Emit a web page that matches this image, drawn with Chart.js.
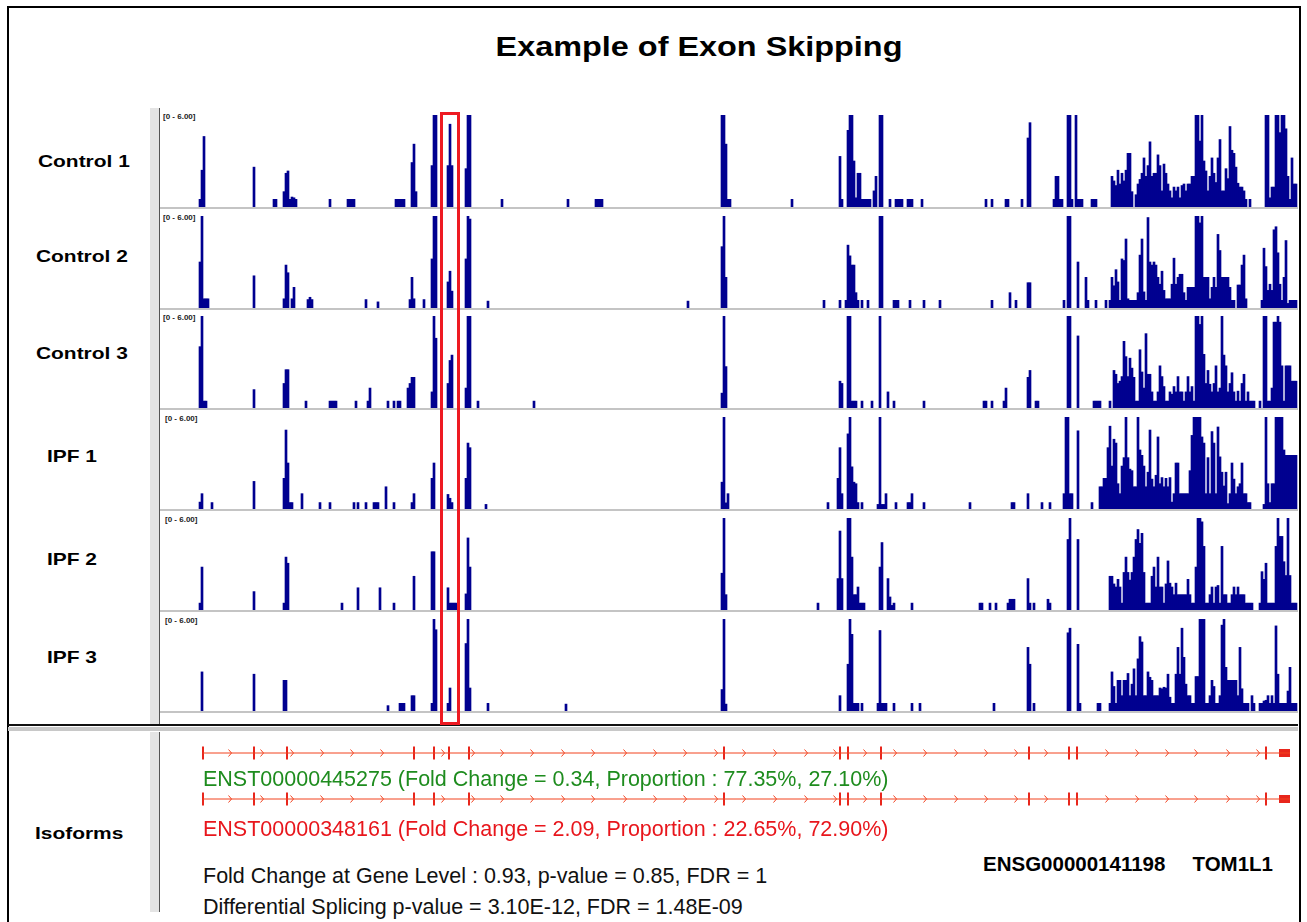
<!DOCTYPE html>
<html>
<head>
<meta charset="utf-8">
<script src="https://cdn.jsdelivr.net/npm/chart.js@4.4.1/dist/chart.umd.min.js"></script>
<style>
  html, body { margin: 0; padding: 0; background: #fff; }
  body { font-family: "Liberation Sans", Arial, sans-serif; }
  #page { position: relative; width: 1307px; height: 922px; overflow: hidden; background: #fff; }
  .abs { position: absolute; }
  .txt { position: absolute; white-space: nowrap; line-height: 1; }
  canvas { position: absolute; display: block; }
</style>
</head>
<body>
<div id="page"></div>
<script>
// ---------------- DATA ----------------
const chartTitle = 'Example of Exon Skipping';
const trackNames = ['Control 1', 'Control 2', 'Control 3', 'IPF 1', 'IPF 2', 'IPF 3'];
const yMax = 6;
const xMax = 1138;          // relative genomic position units across the locus
const binStep = 2;          // width of one coverage bin (position units)

// coverage runs: [start position, height of bin 1, height of bin 2, ...]
const control1Runs = [
  [40, 0.5, 2.4, 4.6], [94, 2.6], [114, 0.5, 0.5], [124, 1.0, 2.2, 2.35, 0.5, 0.65, 0.6, 0.5],
  [170, 0.5], [188, 0.5, 0.5, 0.5, 0.5], [236, 0.5, 0.5, 0.5, 0.5, 0.5], [252, 2.9, 4.1, 1.0],
  [272, 2.7, 6, 6], [288, 2.7, 5.4, 2.7], [306, 2.5, 6, 6], [342, 0.5], [408, 0.5],
  [436, 0.5, 0.5, 0.5, 0.5], [562, 6, 6, 4.1, 0.5, 0.5], [632, 0.5], [680, 3.3, 0.5],
  [688, 5.0, 6, 6, 3.0, 0.6, 2.2, 2.2], [702, 0.5, 0.5, 0.5, 0.5, 0.5], [714, 1.05, 2.0], [720, 6, 6],
  [730, 0.5], [736, 0.5, 0.5, 0.5, 0.5], [748, 0.5, 0.5, 0.5], [762, 0.5], [826, 0.5], [832, 0.5],
  [846, 0.5, 0.5], [862, 0.5], [868, 4.5, 5.5], [894, 0.5, 2.0, 2.0, 0.5, 0.5], [908, 6, 6, 0.5],
  [916, 6, 0.5, 0.5, 0.5], [932, 0.5, 0.5, 0.5],
  [952, 2.0, 1.7, 1.4, 2.4, 1.5, 2.2, 1.7, 2.4, 3.5, 3.5, 1.0],
  [976, 0.8, 1.5, 1.8, 2.2, 3.2, 2.0, 2.7, 4.25, 2.0, 2.2, 2.2, 3.4, 2.7, 1.05, 2.8, 2.2, 1.5, 1.05, 0.6, 1.3, 1.05, 1.3, 0.6, 1.4, 1.5, 1.05, 1.5, 1.5, 2.0, 2.0],
  [1036, 6, 6, 4.3, 6, 3.0, 2.35, 1.05, 2.0, 3.2, 2.2, 1.6, 3.2, 4.4, 1.05, 1.05, 2.5, 1.85, 5.25, 3.7, 3.5, 2.6, 1.55, 1.3, 1.3, 1.05, 0.5, 0, 0.5],
  [1106, 6, 6, 0.6, 1.3, 1.3, 6, 6, 4.85, 6, 6, 5.1, 2.0, 0.5, 3.2, 1.5, 1.5]
];
const control2Runs = [
  [40, 3.0, 6, 0.6, 0.6, 0.6], [94, 2.1], [124, 0.6, 2.8, 2.3], [132, 0.6, 1.35], [148, 0.55, 0.7, 0.55],
  [206, 0.55], [218, 0.4], [250, 0.55, 2.0, 0.6], [264, 0.55], [272, 3.2, 6, 6], [288, 1.7, 2.4, 1.1],
  [306, 3.2, 6, 5.8], [328, 0.45], [528, 0.45], [562, 4.0, 6, 2.0], [664, 0.5], [680, 0.5],
  [686, 0.5, 4.1, 3.4, 2.8, 2.8, 1.0, 0.5], [702, 0.5], [708, 0.5], [720, 6, 6], [734, 0.5, 0.5, 0.5],
  [750, 0.5], [764, 0.5], [780, 0.5], [832, 0.5], [850, 1.0], [856, 0.5], [868, 1.65, 1.65], [904, 0.5],
  [908, 6, 6], [918, 3.0], [926, 2.0, 0.5], [936, 0.5], [946, 0.5],
  [950, 0.5, 2.0, 1.45, 2.5, 1.7, 0.5, 3.2, 3.1, 4.5, 0.6, 0.5, 0.5],
  [974, 0.5, 0.5, 1.0, 3.45, 4.5, 1.05, 0.5, 5.9, 3.0, 2.8, 3.0, 2.8, 2.0, 1.55, 2.4, 1.15, 0.6, 0.6, 0.6, 1.55, 3.25, 1.55, 2.0, 2.2, 2.2, 1.0, 0.5, 1.35, 1.35, 1.35, 1.35],
  [1036, 6, 6, 5.55, 6, 2.0, 2.0, 2.0, 0.6, 1.35, 2.0, 1.35, 4.8, 3.75, 2.0, 2.0, 2.0, 2.0, 1.35, 0.5, 0.5, 0, 1.5, 1.5, 2.8, 3.45, 0.6],
  [1102, 0.5, 3.9, 2.7, 1.15, 1.55, 1.15, 5.1, 5.3, 3.6, 1.55, 0.5, 2.0, 4.4, 0.3, 0.5, 0.5, 0.5, 0.5]
];
const control3Runs = [
  [40, 4.0, 6, 0.45, 0.45], [94, 1.2], [124, 1.6, 2.5, 2.5], [146, 0.45], [170, 0.45, 0.45, 0.45, 0.45],
  [196, 0.45], [208, 0.45, 1.3], [228, 0.45], [234, 0.45], [238, 0.45, 0.45], [248, 1.3, 1.6, 2.0, 2.0],
  [272, 1.05, 6, 4.55], [288, 1.6, 3.1, 3.45], [306, 1.3, 6, 6], [318, 0.45], [374, 0.45],
  [562, 0.97, 6, 2.7], [680, 1.75, 1.6], [688, 6, 6, 0.45, 0.45, 0.45], [702, 0.45], [712, 0.45],
  [720, 6], [728, 1.05], [734, 0.45], [764, 0.45], [824, 0.45, 0.45], [832, 0.45], [844, 0.45, 1.3],
  [868, 2.0, 2.45], [876, 0.45, 0.45], [908, 6, 6], [918, 4.7], [934, 0.45, 0.45, 0.45, 0.45], [950, 0.45],
  [954, 2.45, 2.2, 1.6, 1.75, 2.05, 4.35, 3.35, 2.05, 3.25, 2.6, 2.0, 0.45, 0.45, 3.8, 2.35, 1.3, 4.85, 2.2, 2.2, 1.05, 0.45, 0.45, 1.05, 2.75, 2.05, 1.4, 0.45, 0.45, 1.05, 0.9, 1.4, 1.05, 2.05, 1.05, 1.05, 0.45, 1.05, 2.05, 1.05, 1.4, 0.45],
  [1036, 6, 6, 5.45, 6, 3.5, 1.6, 2.45, 1.55, 1.05, 1.6, 2.75, 1.05, 1.3, 6, 3.45, 2.75, 1.05, 1.6, 2.3, 1.05, 0.45, 1.1, 0.45, 1.6, 2.2, 0.45, 1.05, 0.45, 0.45, 0.45],
  [1100, 0.45, 0, 6, 6, 0.45, 0.45, 1.3, 5.6, 5.6, 6, 5.6, 2.75, 0.45, 2.75, 2.75, 2.75, 1.75, 1.75, 1.75]
];
const ipf1Runs = [
  [40, 0.45, 1.0], [52, 0.42], [94, 1.8], [124, 2.0, 5.15, 3.0, 0.42, 0.42], [142, 1.0], [160, 0.42],
  [170, 0.42], [194, 0.42], [198, 0.42], [206, 0.42], [214, 0.42, 0.42, 0.42], [226, 1.45], [234, 0.42],
  [252, 0.42, 1.0], [272, 2.0, 3.0], [288, 0.95, 0.7, 0.42], [306, 2.0, 4.3, 4.0], [326, 0.3],
  [562, 1.75, 6, 0.4, 1.0], [668, 0.42], [678, 2.0, 4.0, 1.0], [688, 4.9, 6, 2.75, 1.75, 1.65, 0.42],
  [702, 0.42], [718, 0.3, 6, 0.3, 0.3, 1.0], [736, 0.42], [748, 0.42, 0.42, 1.0], [764, 0.42], [810, 0.42],
  [852, 0.42, 0.42], [868, 1.0], [882, 0.42], [890, 0.42], [904, 1.0, 6, 6, 1.0, 1.0], [918, 5.1], [932, 0.42],
  [940, 1.45, 1.45, 2.0, 2.0, 4.0, 5.4, 2.8, 4.55, 4.3, 1.65, 1.0, 2.8, 3.35, 6, 3.35, 2.6, 2.5, 1.45, 1.45, 6,
        3.85, 3.5, 2.8, 1.45, 2.4, 5.15, 1.95, 1.45, 2.2, 4.7, 1.65, 2.05, 1.45, 2.0, 1.45, 2.05, 0.45, 1.0, 3.0, 3.0,
        1.0, 1.0, 1.0, 1.0, 1.0, 2.5, 4.8, 6, 6, 6, 6, 4.7, 4.3, 1.0, 3.35, 1.0, 5.05, 4.3, 1.0, 5.35,
        3.4, 2.4, 1.5, 2.4, 0.35, 1.0, 3.0, 1.95, 1.0, 1.45, 1.65, 3.0, 1.0, 1.0, 0.42, 0.42],
  [1104, 0.3, 6, 1.65, 0.42, 1.65, 1.65, 6, 6, 6, 6, 3.85, 3.5, 3.5, 3.5, 3.5, 3.5, 3.5]
];
const ipf2Runs = [
  [40, 0.45, 2.8], [94, 1.2], [124, 0.45, 3.45, 3.05], [182, 0.45], [198, 1.45], [220, 1.45], [234, 0.45],
  [254, 2.2], [272, 3.8, 3.8], [288, 1.45, 0.45, 0.45, 0.45, 0.45], [306, 1.05, 4.7, 2.8],
  [562, 2.4, 6, 1.0], [658, 0.45], [678, 2.05, 5.15, 2.05], [688, 6, 6, 3.45, 1.0, 1.0, 1.5, 0.45, 0.45, 0.45],
  [720, 2.8, 4.4], [728, 2.05, 0.85, 0.3, 0.45], [752, 0.45], [820, 0.45, 0.45], [830, 0.45], [836, 0.45],
  [848, 0.45, 0.7, 0.7, 0.7], [868, 2.05, 0.45], [874, 0.45], [888, 0.7, 0.45], [908, 4.6, 6], [918, 4.6],
  [950, 2.2, 2.2, 1.7, 1.5, 2.0, 1.5, 0.45, 2.45, 3.45, 2.45, 1.95, 2.45, 3.45, 4.6, 5.25, 4.35, 5.0, 2.45, 0.45, 0.45,
        0.45, 2.2, 2.8, 1.5, 3.45, 1.5, 1.5, 0.45, 1.7, 3.2, 1.75, 1.5, 1.0, 1.75, 1.0, 1.0, 1.0, 1.0, 1.0, 2.0, 1.0, 0.45, 0.45],
  [1036, 2.8, 6, 6, 5.75, 4.15, 0.45, 0.45, 1.0, 1.5, 0.45, 1.5, 1.6, 0.45, 4.15, 1.0, 1.0, 0.45, 0.45, 1.0, 1.5, 1.0, 1.5, 1.0, 1.0, 1.0, 0.45, 0.45, 0.45, 0.45],
  [1100, 0.45, 2.5, 2.0, 3.05, 0.45, 0.45, 0.45, 0.45, 4.15, 6, 4.8, 4.8, 3.15, 2.25, 6, 2.25, 0.45, 0.45, 0.45]
];
const ipf3Runs = [
  [42, 2.55], [94, 2.4], [124, 2.0, 2.0], [228, 0.35], [240, 0.5, 0.5, 0.5], [252, 1.0, 1.0],
  [272, 0.5, 6, 5.3], [288, 0.5, 1.5], [306, 4.4, 6, 1.5], [328, 0.5], [406, 0.45], [562, 1.4, 6, 0.45],
  [680, 1.0], [688, 3.05, 6, 5.0, 0.5, 0.5, 0.5, 0, 0.5], [718, 0.5, 5.25, 0.5, 0.5, 0.5], [734, 0.5],
  [752, 0.5], [760, 0.5], [834, 0.5], [868, 4.15, 3.05, 0, 0.5], [908, 5.1, 5.4], [918, 4.35, 0.5], [938, 0.5, 0.5],
  [950, 0.5, 2.55, 1.6, 0.5, 2.0, 2.0, 1.0, 2.0, 2.0, 2.45, 1.0, 1.75, 2.75, 1.0, 3.4, 4.85, 4.5, 1.0, 1.0, 2.55,
        2.2, 2.0, 1.0, 1.0, 1.0, 1.5, 1.45, 1.55, 1.5, 2.4, 0.9, 0.5, 0.5, 2.4, 4.15, 2.4, 5.4, 3.5, 1.75, 1.0, 1.0, 0.5, 0.5],
  [1036, 2.25, 2.25, 6, 6, 6, 0.5, 0.5, 1.0, 2.0, 1.6, 0.5, 0.5, 1.0, 5.6, 6, 2.85, 2.0, 2.0, 2.0, 2.0, 2.0, 1.0, 4.15, 1.45, 0.5, 0.5, 0.5, 0, 1.0, 0.5],
  [1100, 0.5, 0.5, 0.65, 0.7, 1.0, 0.5, 1.0, 0.5, 5.55, 2.4, 0.5, 0.5, 0.5, 0.5, 1.3, 2.85, 0.5, 0.5, 0.5]
];
const trackRuns = [control1Runs, control2Runs, control3Runs, ipf1Runs, ipf2Runs, ipf3Runs];

// highlighted (skipped) exon window
const highlightStart = 281, highlightEnd = 299;

// isoform structures (positions on same axis)
const isoformIds = ['ENST00000445275', 'ENST00000348161'];
const isoformFoldChange = ['0.34', '2.09'];
const isoformProportion = [['77.35%', '27.10%'], ['22.65%', '72.90%']];
const isoformExons1 = [43, 94, 127, 254, 274, 289, 309, 564, 680, 688, 721, 869, 909, 917, 1106];
const isoformExons2 = [43, 94, 127, 254, 274, 309, 564, 680, 688, 721, 869, 909, 917, 1106];
const geneSpan = [43, 1130];
const lastExon = [1119, 1130];
const strandArrows = [70, 102, 132, 162, 192, 222, 283, 313, 342, 372, 403, 433, 465, 495, 525, 556, 584, 615,
                      646, 675, 705, 735, 765, 796, 826, 856, 886, 947, 977, 1007, 1036, 1068, 1098];
const geneFoldChange = '0.93', genePValue = '0.85', geneFDR = '1';
const splicingPValue = '3.10E-12', splicingFDR = '1.48E-09';
const geneId = 'ENSG00000141198', geneSymbol = 'TOM1L1';

// ---------------- STYLE / LAYOUT ----------------
const BAR = '#000090';
const ISO_LINE = '#f2421f';
const ISO_EXON = '#e8261c';
const GREEN = '#1e8c1e';
const RED = '#e8161c';
const plotLeft = 160, plotWidth = 1138, trackPx = 92;
const trackBase = [207, 308, 408, 509, 610, 711];
const labelCenter = [161, 256, 353, 456, 559, 657];
const labelLeft = [38, 36, 36, 47, 47, 47];
const rangeLeft = [163, 163, 163, 165, 165, 165];

const page = document.getElementById('page');
function box(l, t, w, h, bg) {
  const d = document.createElement('div');
  d.className = 'abs';
  Object.assign(d.style, { left: l + 'px', top: t + 'px', width: w + 'px', height: h + 'px', background: bg });
  page.appendChild(d); return d;
}
function text(str, opts) {
  const d = document.createElement('div');
  d.className = 'txt';
  d.textContent = str;
  Object.assign(d.style, opts);
  page.appendChild(d); return d;
}

// frame
const frame = box(7, 6, 1290, 940, 'transparent');
frame.style.border = '2px solid #000';

// title
text(chartTitle, { left: '0px', width: '1398px', textAlign: 'center', top: '34px', fontSize: '27px',
  fontWeight: 'bold', transform: 'scaleX(1.2)', transformOrigin: '699px 0' });

// left gray band + dark edges
box(150, 108, 9, 617, '#e4e4e4');
box(159, 108, 1, 617, '#555');
box(150, 732, 9, 180, '#e4e4e4');
box(159, 732, 1, 180, '#555');
// separator
box(8, 724, 1290, 2, '#111');
box(8, 727, 1290, 4, '#c8c8c8');

function expand(runs) {
  const pts = [];
  runs.forEach(r => {
    for (let i = 1; i < r.length; i++) {
      if (r[i] > 0) pts.push({ x: r[0] + binStep * (i - 1), y: r[i] });
    }
  });
  return pts;
}

trackNames.forEach((name, k) => {
  const base = trackBase[k];
  box(plotLeft, base, plotWidth, 2, '#c4c4c4');
  text(name, { left: labelLeft[k] + 'px', top: (labelCenter[k] - 8.3) + 'px', fontSize: '17px', fontWeight: 'bold',
    transform: 'scaleX(1.23)', transformOrigin: '0 0' });
  text('[0 - ' + yMax.toFixed(2) + ']', { left: rangeLeft[k] + 'px', top: (base - 94) + 'px', fontSize: '8px',
    fontWeight: 'bold', color: '#222' });
  const cv = document.createElement('canvas');
  cv.width = plotWidth; cv.height = trackPx;
  cv.style.left = plotLeft + 'px'; cv.style.top = (base - trackPx) + 'px';
  page.appendChild(cv);
  new Chart(cv, {
    type: 'bar',
    data: { datasets: [{ label: name, data: expand(trackRuns[k]), backgroundColor: BAR, borderWidth: 0,
      barThickness: binStep, grouped: false }] },
    options: {
      responsive: false, animation: false, events: [],
      layout: { padding: 0, autoPadding: false },
      plugins: { legend: { display: false }, tooltip: { enabled: false } },
      scales: {
        x: { type: 'linear', min: 0, max: xMax, offset: false, display: false },
        y: { type: 'linear', min: 0, max: yMax, display: false }
      }
    }
  });
});

// highlight box
const hb = box(plotLeft + highlightStart - 1, 112, highlightEnd - highlightStart + 2, 613, 'transparent');
hb.style.border = '3px solid #ee1a22';
hb.style.boxSizing = 'border-box';

// ---------------- ISOFORMS ----------------
text('Isoforms', { left: '35px', top: (833 - 8.3) + 'px', fontSize: '17px', fontWeight: 'bold',
  transform: 'scaleX(1.23)', transformOrigin: '0 0' });

function chevronCanvas(color) {
  const c = document.createElement('canvas');
  c.width = 6; c.height = 8;
  const g = c.getContext('2d');
  g.strokeStyle = color; g.lineWidth = 1;
  g.beginPath(); g.moveTo(1.5, 0.5); g.lineTo(4.5, 4); g.lineTo(1.5, 7.5); g.stroke();
  return c;
}
const chev = chevronCanvas(ISO_LINE);
const isoCv = document.createElement('canvas');
isoCv.width = plotWidth; isoCv.height = 92;
isoCv.style.left = plotLeft + 'px'; isoCv.style.top = '730px';
page.appendChild(isoCv);

const isoExons = [isoformExons1, isoformExons2];
const isoDatasets = [];
isoExons.forEach((ex, r) => {
  const row = r + 0.5;
  isoDatasets.push({ label: isoformIds[r] + ' intron', data: geneSpan.map(x => ({ x, y: row })), showLine: true,
    borderColor: ISO_LINE, borderWidth: 1, pointRadius: 0 });
  isoDatasets.push({ label: isoformIds[r] + ' last exon', data: lastExon.map(x => ({ x, y: row })), showLine: true,
    borderColor: ISO_EXON, borderWidth: 8, borderCapStyle: 'butt', pointRadius: 0 });
  isoDatasets.push({ label: isoformIds[r] + ' exons', data: ex.map(x => ({ x, y: row })), showLine: false,
    pointStyle: 'line', pointRotation: 90, pointRadius: 6.5, pointBorderWidth: 2, pointBorderColor: ISO_EXON,
    pointBackgroundColor: ISO_EXON });
  isoDatasets.push({ label: isoformIds[r] + ' strand', data: strandArrows.map(x => ({ x, y: row })), showLine: false,
    pointStyle: chev, pointRadius: 3 });
});
new Chart(isoCv, {
  type: 'scatter',
  data: { datasets: isoDatasets },
  options: {
    responsive: false, animation: false, events: [],
    layout: { padding: 0, autoPadding: false },
    plugins: { legend: { display: false }, tooltip: { enabled: false } },
    scales: {
      x: { type: 'linear', min: 0, max: xMax, display: false },
      y: { type: 'linear', min: 0, max: 2, reverse: true, display: false }
    }
  }
});

const isoFont = '21.5px';
text(isoformIds[0] + ' (Fold Change = ' + isoformFoldChange[0] + ', Proportion : ' + isoformProportion[0].join(', ') + ')',
  { left: '203px', top: (779 - 10.5) + 'px', fontSize: isoFont, color: GREEN });
text(isoformIds[1] + ' (Fold Change = ' + isoformFoldChange[1] + ', Proportion : ' + isoformProportion[1].join(', ') + ')',
  { left: '203px', top: (829 - 10.5) + 'px', fontSize: isoFont, color: RED });
text('Fold Change at Gene Level : ' + geneFoldChange + ', p-value = ' + genePValue + ', FDR = ' + geneFDR,
  { left: '203px', top: (876 - 10.5) + 'px', fontSize: isoFont, color: '#111' });
text('Differential Splicing p-value = ' + splicingPValue + ', FDR = ' + splicingFDR,
  { left: '203px', top: (907.5 - 10.5) + 'px', fontSize: isoFont, color: '#111' });
text(geneId, { left: '983px', top: (864 - 10) + 'px', fontSize: '20.5px', fontWeight: 'bold', color: '#000' });
text(geneSymbol, { right: (1307 - 1273) + 'px', top: (864 - 10) + 'px', fontSize: '20.5px', fontWeight: 'bold', color: '#000' });
</script>
</body>
</html>
